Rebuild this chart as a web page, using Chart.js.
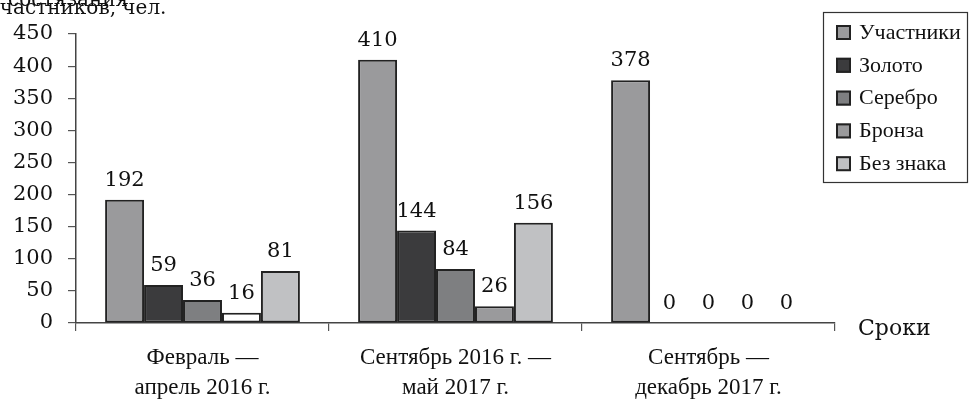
<!DOCTYPE html>
<html>
<head>
<meta charset="utf-8">
<script src="https://cdn.jsdelivr.net/npm/chart.js@4.4.1/dist/chart.umd.min.js"></script>
<style>
html,body{margin:0;padding:0;background:#fff;overflow:hidden;}
#wrap{width:973px;height:407px;position:relative;}
</style>
</head>
<body>
<div id="wrap"><canvas id="c" width="973" height="407"></canvas></div>
<script>
const categories = [["Февраль —", "апрель 2016 г."], ["Сентябрь 2016 г. —", "май 2017 г."], ["Сентябрь —", "декабрь 2017 г."]];
const seriesNames = ["Участники", "Золото", "Серебро", "Бронза", "Без знака"];
const participants = [192, 410, 378];
const gold = [59, 144, 0];
const silver = [36, 84, 0];
const bronze = [16, 26, 0];
const noBadge = [81, 156, 0];
const yTicks = [0, 50, 100, 150, 200, 250, 300, 350, 400, 450];
const yTitleLines = ["состязания", "участников, чел."];
const xTitle = "Сроки";

const colors = ["#9a9a9c", "#3b3b3d", "#7e7f81", "#9a9a9c", "#c0c1c3"];
const bronzeBars = ["#ffffff", "#9a9a9c", "#9a9a9c"];
const seriesValues = [participants, gold, silver, bronze, noBadge];

const datasets = seriesNames.map((name, i) => ({
  label: name,
  data: seriesValues[i],
  backgroundColor: i === 3 ? bronzeBars : colors[i],
  borderColor: "#222",
  borderWidth: 2,
  borderSkipped: false
}));

const NUM_FONT = "21px 'DejaVu Serif'";

const extras = {
  id: "extras",
  afterDatasetsDraw(chart) {
    const ctx = chart.ctx;
    ctx.save();
    // value labels
    ctx.fillStyle = "#111";
    ctx.font = NUM_FONT;
    ctx.textAlign = "center";
    ctx.textBaseline = "alphabetic";
    chart.data.datasets.forEach((ds, di) => {
      const meta = chart.getDatasetMeta(di);
      meta.data.forEach((bar, i) => {
        ctx.fillText(String(ds.data[i]), bar.x, bar.y - 14);
      });
    });
    // y title (clipped at top)
    ctx.textAlign = "left";
    ctx.font = "20px 'DejaVu Serif'";
    ctx.fillText(yTitleLines[0], 8, 6);
    ctx.fillText(yTitleLines[1], -12, 14);
    // x title
    const ca = chart.chartArea;
    ctx.font = "22px 'DejaVu Serif'";
    ctx.textBaseline = "middle";
    ctx.fillText(xTitle, ca.right + 23, ca.bottom + 6);
    // legend
    const lx = 823, ly = 12, lw = 144, lh = 170;
    ctx.strokeStyle = "#333";
    ctx.lineWidth = 1.2;
    ctx.strokeRect(lx + 0.5, ly + 0.5, lw, lh);
    ctx.font = "22px 'Liberation Serif'";
    seriesNames.forEach((name, i) => {
      const cy = 32 + i * 32.8;
      ctx.fillStyle = colors[i];
      ctx.fillRect(836, cy - 7, 15, 15);
      ctx.strokeStyle = "#222";
      ctx.lineWidth = 2;
      ctx.strokeRect(837, cy - 6, 13, 13);
      ctx.fillStyle = "#111";
      ctx.textBaseline = "middle";
      ctx.fillText(name, 859, cy + 1);
    });
    ctx.restore();
  }
};

new Chart(document.getElementById("c"), {
  type: "bar",
  data: { labels: categories, datasets },
  options: {
    responsive: false,
    devicePixelRatio: 1,
    animation: false,
    layout: { padding: { left: 0, right: 138, top: 34, bottom: 0 } },
    plugins: { legend: { display: false }, tooltip: { enabled: false } },
    datasets: { bar: { categoryPercentage: 0.77, barPercentage: 1.0 } },
    scales: {
      x: {
        offset: true,
        grid: { display: true, drawOnChartArea: false, drawTicks: true, tickLength: 8, color: "#555", lineWidth: 1.2, offset: true },
        border: { display: true, color: "#444", width: 1.5 },
        ticks: { color: "#111", font: { family: "'Liberation Serif'", size: 23, lineHeight: 1.3 }, padding: 12, maxRotation: 0, autoSkip: false },
        afterFit(scale) { scale.height = 84; }
      },
      y: {
        min: 0, max: 450,
        afterBuildTicks(scale) { scale.ticks = yTicks.map(v => ({ value: v })); },
        grid: { display: true, drawOnChartArea: false, drawTicks: true, tickLength: 8, color: "#555", lineWidth: 1.2 },
        border: { display: true, color: "#444", width: 1.5 },
        ticks: { color: "#111", font: { family: "'DejaVu Serif'", size: 21 }, padding: 15 },
        afterFit(scale) { scale.width = 76; }
      }
    }
  },
  plugins: [extras]
});
</script>
</body>
</html>
